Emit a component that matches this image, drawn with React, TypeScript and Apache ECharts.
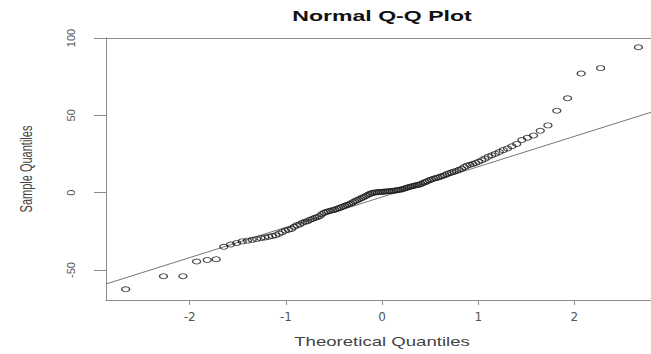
import React, { useEffect, useRef } from "react";
import * as echarts from "echarts";

// Ordered sample values (130 observations)
const sampleQuantiles = [
  -62.5, -54, -54, -44.5, -43.5, -43, -35, -33.5, -32.5, -31.5,
  -31, -30.5, -30, -29.5, -29, -28.5, -28, -27.5, -26.5, -25.5,
  -24.5, -24, -23.5, -22, -21, -20.5, -19.5, -18.8, -18.5, -17.5,
  -17, -16.3, -15.8, -15.2, -14, -13, -12.5, -12, -11.7, -11.3,
  -11, -10.5, -10, -9.5, -9, -8.5, -8, -7.5, -7, -6.3,
  -5.6, -5, -4.4, -3.8, -3.2, -2.6, -2, -1.4, -0.8, -0.3,
  0, 0.2, 0.3, 0.4, 0.5, 0.6, 0.7, 0.8, 0.9, 1.0,
  1.1, 1.3, 1.5, 1.7, 1.9, 2.1, 2.5, 2.9, 3.3, 3.7,
  4.0, 4.3, 4.6, 4.9, 5.2, 5.6, 6.2, 6.8, 7.4, 8.0,
  8.5, 9.0, 9.4, 9.8, 10.3, 10.8, 11.3, 12.0, 12.6, 13.1,
  13.6, 14.2, 14.8, 15.5, 16.5, 17.5, 18.0, 18.5, 19.2, 20.0,
  21.0, 22.0, 23.3, 24.2, 25.2, 26.3, 27.5, 28.6, 30.0, 31.5,
  34.0, 35.5, 37.0, 40.0, 43.5, 53, 61, 77, 80.5, 94,
];

const xTicks = [-2, -1, 0, 1, 2];
const yTicks = [-50, 0, 50, 100];

// Reference line through the quartiles
const lineIntercept = -2.8;
const lineSlope = 19.6;

const X_MIN = -2.87;
const X_MAX = 2.796;
const Y_MIN = -69.4;
const Y_MAX = 100;

// Inverse standard normal CDF (Acklam's approximation)
function qnorm(p: number): number {
  const a = [-39.69683028665376, 220.9460984245205, -275.9285104469687, 138.357751867269, -30.66479806614716, 2.506628277459239];
  const b = [-54.47609879822406, 161.5858368580409, -155.6989798598866, 66.80131188771972, -13.28068155288572];
  const c = [-0.007784894002430293, -0.3223964580411365, -2.400758277161838, -2.549732539343734, 4.374664141464968, 2.938163982698783];
  const d = [0.007784695709041462, 0.3224671290700398, 2.445134137142996, 3.754408661907416];
  const pl = 0.02425;
  if (p < pl) {
    const q = Math.sqrt(-2 * Math.log(p));
    return (((((c[0] * q + c[1]) * q + c[2]) * q + c[3]) * q + c[4]) * q + c[5]) /
      ((((d[0] * q + d[1]) * q + d[2]) * q + d[3]) * q + 1);
  }
  if (p > 1 - pl) {
    const q = Math.sqrt(-2 * Math.log(1 - p));
    return -(((((c[0] * q + c[1]) * q + c[2]) * q + c[3]) * q + c[4]) * q + c[5]) /
      ((((d[0] * q + d[1]) * q + d[2]) * q + d[3]) * q + 1);
  }
  const q = p - 0.5;
  const r = q * q;
  return (((((a[0] * r + a[1]) * r + a[2]) * r + a[3]) * r + a[4]) * r + a[5]) * q /
    (((((b[0] * r + b[1]) * r + b[2]) * r + b[3]) * r + b[4]) * r + 1);
}

const FONT = "'Liberation Sans', Arial, sans-serif";
const AXIS_GREY = "#8c8c8c";

export default function App() {
  const ref = useRef<HTMLDivElement>(null);

  useEffect(() => {
    if (!ref.current) return;
    const chart = echarts.init(ref.current, undefined, { renderer: "svg" });
    const n = sampleQuantiles.length;
    const points = sampleQuantiles.map((v, i) => [qnorm((i + 1 - 0.5) / n), v]);
    const linePts = [
      [X_MIN, lineIntercept + lineSlope * X_MIN],
      [X_MAX, lineIntercept + lineSlope * X_MAX],
    ];

    chart.setOption({
      animation: false,
      backgroundColor: "#ffffff",
      grid: { left: 106, top: 38, right: 0, bottom: 54, containLabel: false },
      xAxis: [
        {
          type: "value",
          position: "bottom",
          min: X_MIN,
          max: X_MAX,
          axisLine: { show: true, onZero: false, lineStyle: { color: AXIS_GREY, width: 1 } },
          axisTick: { show: true, length: 5, customValues: xTicks, lineStyle: { color: AXIS_GREY } },
          axisLabel: {
            show: true,
            customValues: xTicks,
            margin: 11,
            fontSize: 12,
            fontFamily: "'DejaVu Sans', sans-serif",
            color: "#555",
          },
          splitLine: { show: false },
        },
        {
          type: "value",
          position: "top",
          min: X_MIN,
          max: X_MAX,
          axisLine: { show: true, onZero: false, lineStyle: { color: AXIS_GREY, width: 1 } },
          axisTick: { show: false },
          axisLabel: { show: false },
          splitLine: { show: false },
        },
      ],
      yAxis: {
        type: "value",
        min: Y_MIN,
        max: Y_MAX,
        axisLine: { show: true, onZero: false, lineStyle: { color: AXIS_GREY, width: 1 } },
        axisTick: { show: true, length: 12, customValues: yTicks, lineStyle: { color: AXIS_GREY } },
        axisLabel: {
          show: true,
          customValues: yTicks,
          rotate: 90,
          margin: 30,
          fontSize: 11,
          fontFamily: FONT,
          color: "#555",
        },
        splitLine: { show: false },
      },
      series: [
        {
          type: "line",
          data: linePts,
          showSymbol: false,
          symbol: "none",
          lineStyle: { color: "#777", width: 1 },
          silent: true,
          z: 2,
        },
        {
          type: "scatter",
          data: points,
          symbol: "circle",
          symbolSize: [8, 5],
          itemStyle: { color: "rgba(0,0,0,0)", borderColor: "#1a1a1a", borderWidth: 1.1 },
          z: 3,
        },
      ],
      graphic: [
        {
          type: "text",
          x: 382,
          y: 16,
          scaleX: 1.65,
          style: {
            text: "Normal Q-Q Plot",
            fontSize: 14,
            fontWeight: "bold",
            fontFamily: FONT,
            fill: "#111",
            align: "center",
            verticalAlign: "middle",
            textAlign: "center",
            textVerticalAlign: "middle",
          },
        },
        {
          type: "text",
          x: 382,
          y: 342,
          scaleX: 1.55,
          style: {
            text: "Theoretical Quantiles",
            fontSize: 12,
            fontFamily: FONT,
            fill: "#444",
            align: "center",
            verticalAlign: "middle",
            textAlign: "center",
            textVerticalAlign: "middle",
          },
        },
        {
          type: "text",
          x: 26,
          y: 169,
          rotation: Math.PI / 2,
          scaleY: 1.5,
          style: {
            text: "Sample Quantiles",
            fontSize: 11,
            fontFamily: FONT,
            fill: "#444",
            align: "center",
            verticalAlign: "middle",
            textAlign: "center",
            textVerticalAlign: "middle",
          },
        },
      ],
    });

    return () => chart.dispose();
  }, []);

  return (
    <div
      ref={ref}
      style={{ position: "fixed", left: 0, top: 0, width: 651, height: 354, background: "#fff" }}
    />
  );
}
